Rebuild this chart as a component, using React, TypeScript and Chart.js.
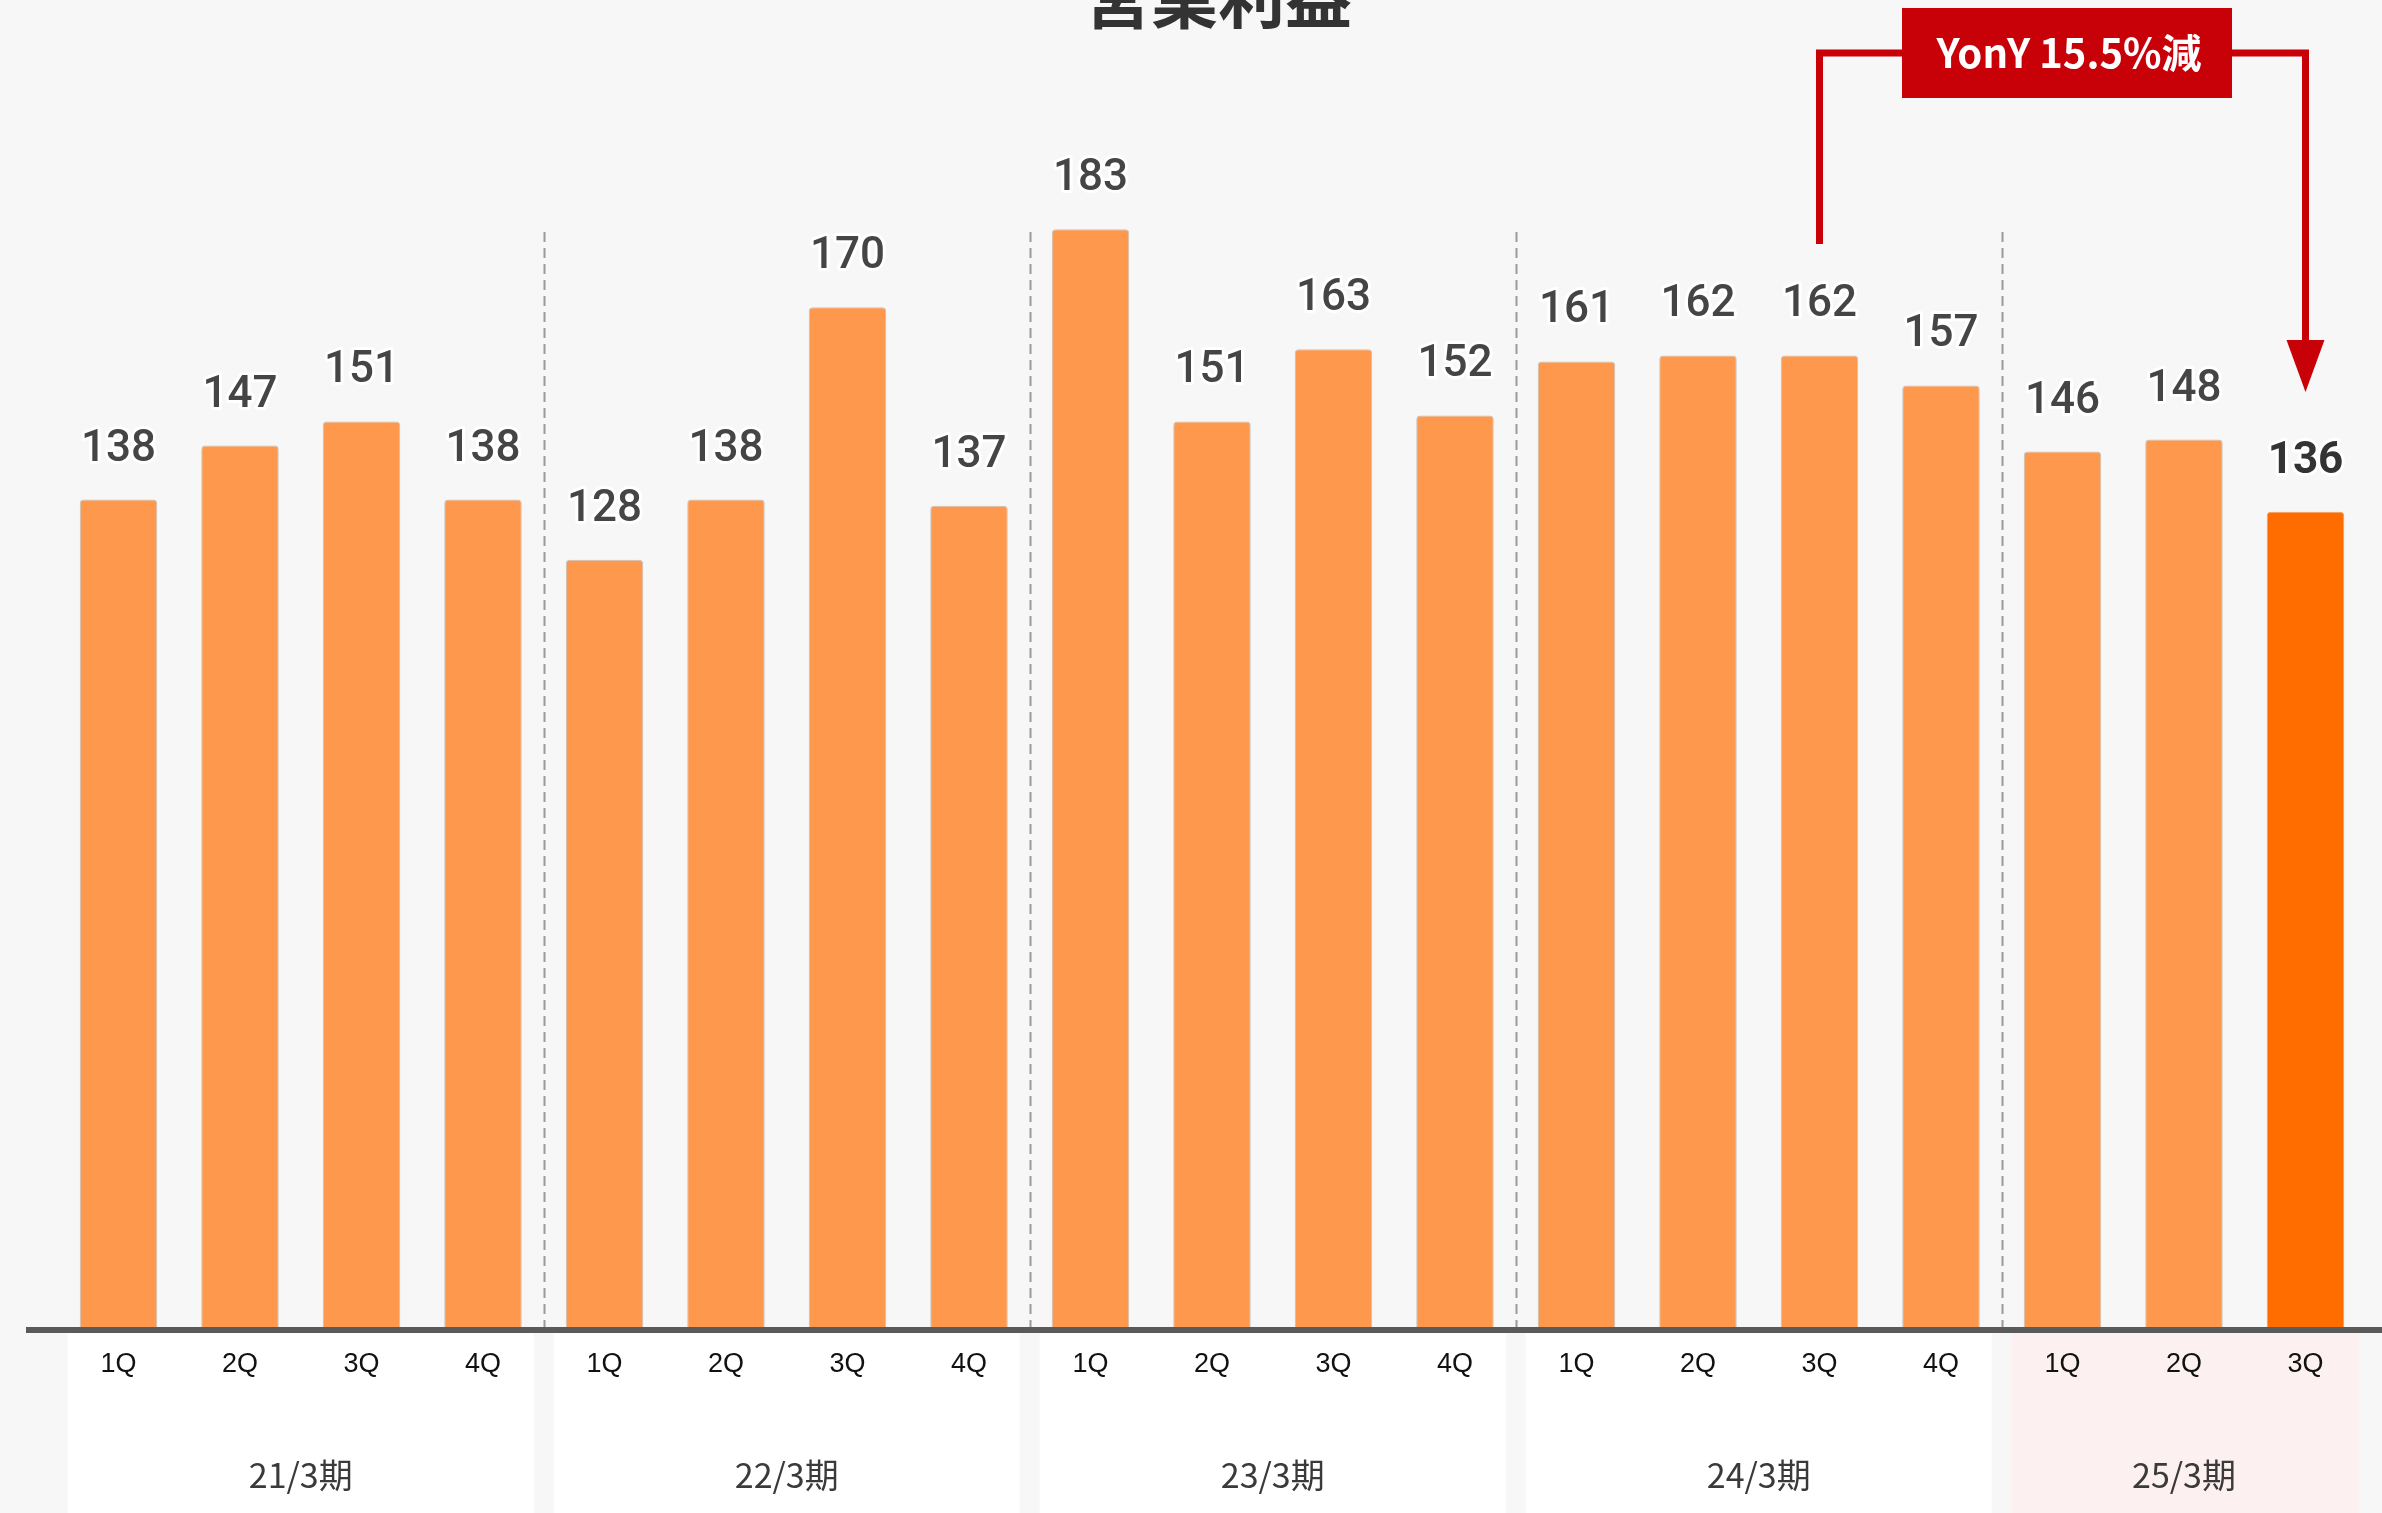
import React, { useEffect, useRef } from "react";
import { Chart, registerables } from "chart.js";

Chart.register(...registerables);

const quarterLabels = ["1Q", "2Q", "3Q", "4Q", "1Q", "2Q", "3Q", "4Q", "1Q", "2Q", "3Q", "4Q", "1Q", "2Q", "3Q", "4Q", "1Q", "2Q", "3Q"];
const periodLabels = ["21/3期", "22/3期", "23/3期", "24/3期", "25/3期"];
const periodSizes = [4, 4, 4, 4, 3];
const operatingProfit = [138, 147, 151, 138, 128, 138, 170, 137, 183, 151, 163, 152, 161, 162, 162, 157, 146, 148, 136];
const chartTitle = "営業利益";
const annotationText = "YonY 15.5%減";
const annotationFromIndex = 14;
const annotationToIndex = 18;

const W = 2382;
const H = 1513;
const BG = "#f7f7f7";
const BAR = "#fd984c";
const BAR_HI = "#ff6d00";
const RED = "#c80008";

const overlayPlugin = {
  id: "overlay",
  beforeDraw(chart: any) {
    const { ctx, scales } = chart;
    const x = scales.x;
    const n = operatingProfit.length;
    const cw = x.width / n;
    ctx.save();
    ctx.fillStyle = BG;
    ctx.fillRect(0, 0, W, H);
    let start = 0;
    periodSizes.forEach((sz, gi) => {
      const left = x.getPixelForValue(start) - cw / 2;
      const right = x.getPixelForValue(start + sz - 1) + cw / 2;
      ctx.fillStyle = gi === periodSizes.length - 1 ? "#fdf0f0" : "#ffffff";
      ctx.fillRect(left + 10, 1333, right - left - 20 + (gi === periodSizes.length - 1 ? 3 : 0), H - 1333);
      if (start > 0) {
        const dx = Math.round((x.getPixelForValue(start - 1) + x.getPixelForValue(start)) / 2) + 0.5;
        ctx.strokeStyle = "#9a9a9a";
        ctx.lineWidth = 2;
        ctx.setLineDash([10, 6]);
        ctx.beginPath();
        ctx.moveTo(dx, 232);
        ctx.lineTo(dx, 1329);
        ctx.stroke();
        ctx.setLineDash([]);
      }
      start += sz;
    });
    ctx.restore();
  },
  afterDatasetsDraw(chart: any) {
    const { ctx, scales } = chart;
    const x = scales.x;
    const y = scales.y;
    const n = operatingProfit.length;
    ctx.save();
    ctx.fillStyle = "#5a5a5a";
    ctx.fillRect(26, 1327, W - 26, 6);

    ctx.textAlign = "center";
    ctx.textBaseline = "middle";
    ctx.lineJoin = "round";
    operatingProfit.forEach((v, i) => {
      const px = x.getPixelForValue(i);
      const py = y.getPixelForValue(v) - 50;
      const last = i === n - 1;
      ctx.font = (last ? "bold " : "500 ") + "44px Roboto";
      ctx.strokeStyle = "#ffffff";
      ctx.lineWidth = 6;
      ctx.strokeText(String(v), px, py);
      ctx.fillStyle = last ? "#333333" : "#454545";
      ctx.fillText(String(v), px, py);
    });

    ctx.font = "27px 'Liberation Sans', Arial, sans-serif";
    ctx.fillStyle = "#111111";
    quarterLabels.forEach((q, i) => {
      ctx.fillText(q, x.getPixelForValue(i), 1365);
    });

    ctx.font = "34px 'Noto Sans CJK JP'";
    ctx.fillStyle = "#3a3a3a";
    let start = 0;
    periodSizes.forEach((sz, gi) => {
      const cx = (x.getPixelForValue(start) + x.getPixelForValue(start + sz - 1)) / 2;
      ctx.fillText(periodLabels[gi], cx, 1475);
      start += sz;
    });

    ctx.font = "bold 67px 'Noto Sans CJK JP'";
    ctx.fillStyle = "#333333";
    ctx.textBaseline = "alphabetic";
    ctx.fillText(chartTitle, 1218, 23);

    const xl = x.getPixelForValue(annotationFromIndex);
    const xr = x.getPixelForValue(annotationToIndex);
    const boxL = 1902;
    const boxR = 2232;
    const lineY = 53;
    ctx.strokeStyle = RED;
    ctx.lineWidth = 7;
    ctx.lineJoin = "miter";
    ctx.beginPath();
    ctx.moveTo(xl, 244);
    ctx.lineTo(xl, lineY);
    ctx.lineTo(boxL, lineY);
    ctx.stroke();
    ctx.beginPath();
    ctx.moveTo(boxR, lineY);
    ctx.lineTo(xr, lineY);
    ctx.lineTo(xr, 345);
    ctx.stroke();
    ctx.fillStyle = RED;
    ctx.beginPath();
    ctx.moveTo(xr - 19, 340);
    ctx.lineTo(xr + 19, 340);
    ctx.lineTo(xr, 392);
    ctx.closePath();
    ctx.fill();
    ctx.fillRect(boxL, 8, boxR - boxL, 90);
    ctx.fillStyle = "#ffffff";
    ctx.font = "bold 40px 'Noto Sans CJK JP'";
    ctx.textAlign = "center";
    ctx.textBaseline = "middle";
    ctx.fillText(annotationText, (boxL + boxR) / 2 + 2, 53);
    ctx.restore();
  },
};

export default function App() {
  const ref = useRef<HTMLCanvasElement>(null);
  useEffect(() => {
    if (!ref.current) return;
    const n = operatingProfit.length;
    const chart = new Chart(ref.current, {
      type: "bar",
      data: {
        labels: quarterLabels,
        datasets: [
          {
            data: operatingProfit,
            backgroundColor: operatingProfit.map((_, i) => (i === n - 1 ? BAR_HI : BAR)),
            borderColor: operatingProfit.map((_, i) => (i === n - 1 ? "rgba(230,100,0,0.6)" : "rgba(160,150,140,0.55)")),
            borderWidth: 1,
            borderRadius: 4,
            borderSkipped: "start",
            categoryPercentage: 1,
            barPercentage: 0.638,
          },
        ],
      },
      options: {
        animation: false,
        responsive: false,
        devicePixelRatio: 1,
        layout: { padding: { left: 57.75, right: 15.75, top: 127, bottom: 184 } },
        plugins: { legend: { display: false }, tooltip: { enabled: false }, title: { display: false } },
        scales: {
          x: { display: false, offset: true },
          y: { display: false, min: 0, max: 200 },
        },
      },
      plugins: [overlayPlugin],
    });
    return () => chart.destroy();
  }, []);
  return (
    <div style={{ position: "absolute", left: 0, top: 0, width: W, height: H, background: BG, overflow: "hidden" }}>
      <canvas ref={ref} width={W} height={H} style={{ display: "block", width: W, height: H }} />
    </div>
  );
}
